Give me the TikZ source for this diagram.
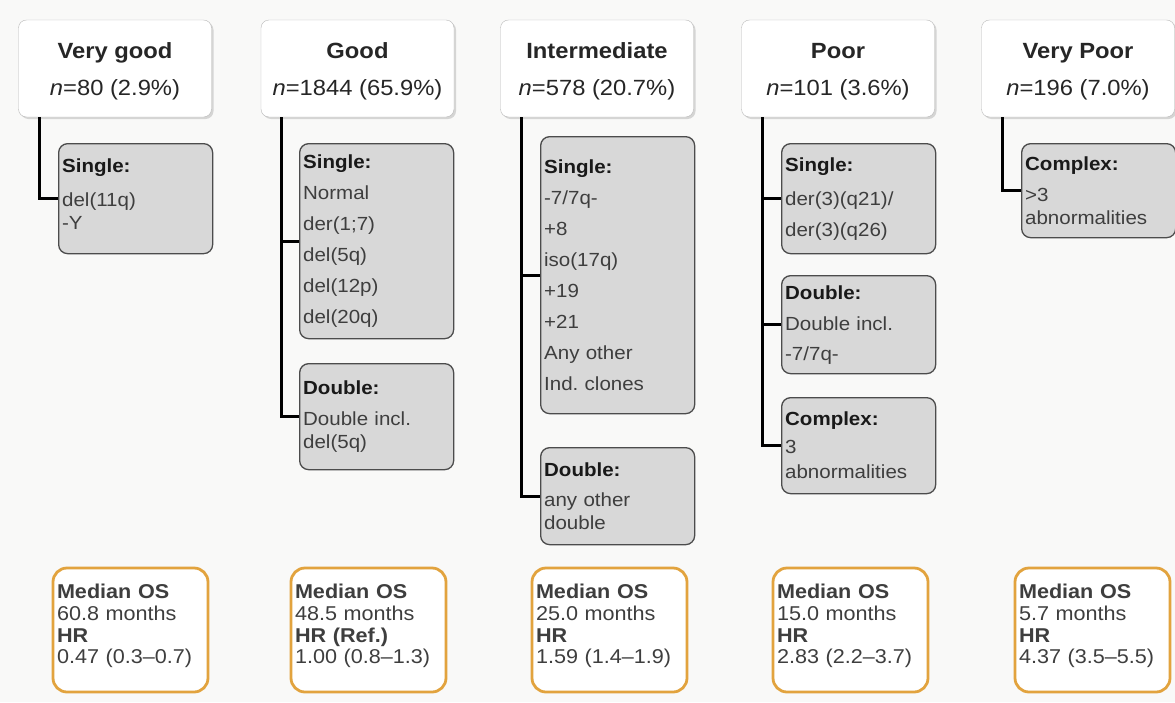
\documentclass[tikz,border=0pt]{standalone}
\usepackage{fontspec}
\setmainfont[FakeStretch=1.08]{Liberation Sans}
\usepackage{xcolor}
\usetikzlibrary{shadows,calc}
\definecolor{osorange}{RGB}{226,163,62}
\definecolor{cytgray}{RGB}{216,216,216}
\definecolor{txtgray}{RGB}{62,62,62}
\definecolor{bgpaper}{RGB}{249,249,248}
\newcommand{\cytlbl}[1]{\textbf{\color{black!90}#1}}
\frenchspacing
\tikzset{
  hdr/.style={draw=gray!55, fill=white, rounded corners=8pt, align=center, text=black!85,
    font=\fontsize{22}{37}\selectfont, minimum width=193pt, minimum height=97pt,
    drop shadow={shadow xshift=2pt, shadow yshift=-2pt, fill=black!30, opacity=.5}},
  cyt/.style={draw=black!70, line width=1.3pt, fill=cytgray, rounded corners=9pt, align=left,
    text=txtgray, text width=147pt, inner xsep=3.5pt, anchor=north west,
    font=\fontsize{19}{23}\selectfont},
  os/.style={draw=osorange, line width=2.8pt, rounded corners=14pt, fill=white, align=left,
    text=txtgray, text width=147pt, inner xsep=4pt, minimum height=124pt,
    font=\fontsize{20}{21.7}\selectfont},
  tree/.style={line width=3pt, black},
}
\begin{document}
\begin{tikzpicture}[x=1pt,y=-1pt]
  \fill[bgpaper] (0,0) rectangle (1175,702);
  \useasboundingbox (0,0) rectangle (1175,702);
  % risk groups
  \node[hdr] (hvg) at (115,68.5)    {\textbf{Very good}\rule{0pt}{21pt}\\\textit{n}=80 (2.9\%)};
  \node[hdr] (hgd) at (357.5,68.5)  {\textbf{Good}\rule{0pt}{21pt}\\\textit{n}=1844 (65.9\%)};
  \node[hdr] (hin) at (597,68.5)    {\textbf{Intermediate}\rule{0pt}{21pt}\\\textit{n}=578 (20.7\%)};
  \node[hdr] (hpr) at (838,68.5)    {\textbf{Poor}\rule{0pt}{21pt}\\\textit{n}=101 (3.6\%)};
  \node[hdr] (hvp) at (1078,68.5)   {\textbf{Very Poor}\rule{0pt}{21pt}\\\textit{n}=196 (7.0\%)};
  % karyotypes
  \node[cyt, minimum height=110pt] (vgs) at (58,143) {\cytlbl{Single:}\\[11pt]del(11q)\\-Y\rule[-10pt]{0pt}{10pt}};
  \node[cyt, minimum height=195pt] (gds) at (299,143) {\cytlbl{Single:}\\[8pt]Normal\\[8pt]der(1;7)\\[8pt]del(5q)\\[8pt]del(12p)\\[8pt]del(20q)};
  \node[cyt, minimum height=106pt] (gdd) at (299,363) {\cytlbl{Double:}\\[8pt]Double incl.\\del(5q)};
  \node[cyt, minimum height=277pt] (ins) at (540,136) {\cytlbl{Single:}\\[8pt]-7/7q-\\[8pt]+8\\[8pt]iso(17q)\\[8pt]+19\\[8pt]+21\\[8pt]Any other\\[8pt]Ind. clones};
  \node[cyt, minimum height=97pt]  (ind) at (540,447) {\cytlbl{Double:}\\[7pt]any other\\double};
  \node[cyt, minimum height=110pt] (prs) at (781,143) {\cytlbl{Single:}\\[11pt]der(3)(q21)/\\[8pt]der(3)(q26)\rule[-4pt]{0pt}{4pt}};
  \node[cyt, minimum height=98pt]  (prd) at (781,275) {\cytlbl{Double:}\\[8pt]Double incl.\\[7pt]-7/7q-};
  \node[cyt, minimum height=96pt]  (prc) at (781,397) {\cytlbl{Complex:}\\[5pt]3\\[2pt]abnormalities};
  \node[cyt, minimum height=94pt]  (vpc) at (1021,143) {\cytlbl{Complex:}\\[8pt]>3\\abnormalities};
  % survival
  \node[os] (osvg) at (130.5,630)  {\textbf{Median OS}\\60.8 months\\\textbf{HR}\\0.47 (0.3--0.7)\rule[-12pt]{0pt}{12pt}};
  \node[os] (osgd) at (368.5,630)  {\textbf{Median OS}\\48.5 months\\\textbf{HR (Ref.)}\\1.00 (0.8--1.3)\rule[-12pt]{0pt}{12pt}};
  \node[os] (osin) at (609.5,630)  {\textbf{Median OS}\\25.0 months\\\textbf{HR}\\1.59 (1.4--1.9)\rule[-12pt]{0pt}{12pt}};
  \node[os] (ospr) at (850.5,630)  {\textbf{Median OS}\\15.0 months\\\textbf{HR}\\2.83 (2.2--3.7)\rule[-12pt]{0pt}{12pt}};
  \node[os] (osvp) at (1092.5,630) {\textbf{Median OS}\\5.7 months\\\textbf{HR}\\4.37 (3.5--5.5)\rule[-12pt]{0pt}{12pt}};
  % branches
  \draw[tree] ([xshift=21pt]hvg.south west) |- (vgs.west);
  \draw[tree] ([xshift=21pt]hgd.south west) |- (gds.west);
  \draw[tree] ([xshift=21pt]hgd.south west) |- (gdd.west);
  \draw[tree] ([xshift=21pt]hin.south west) |- (ins.west);
  \draw[tree] ([xshift=21pt]hin.south west) |- (ind.west);
  \draw[tree] ([xshift=21pt]hpr.south west) |- (prs.west);
  \draw[tree] ([xshift=21pt]hpr.south west) |- (prd.west);
  \draw[tree] ([xshift=21pt]hpr.south west) |- (prc.west);
  \draw[tree] ([xshift=21pt]hvp.south west) |- (vpc.west);
\end{tikzpicture}
\end{document}
